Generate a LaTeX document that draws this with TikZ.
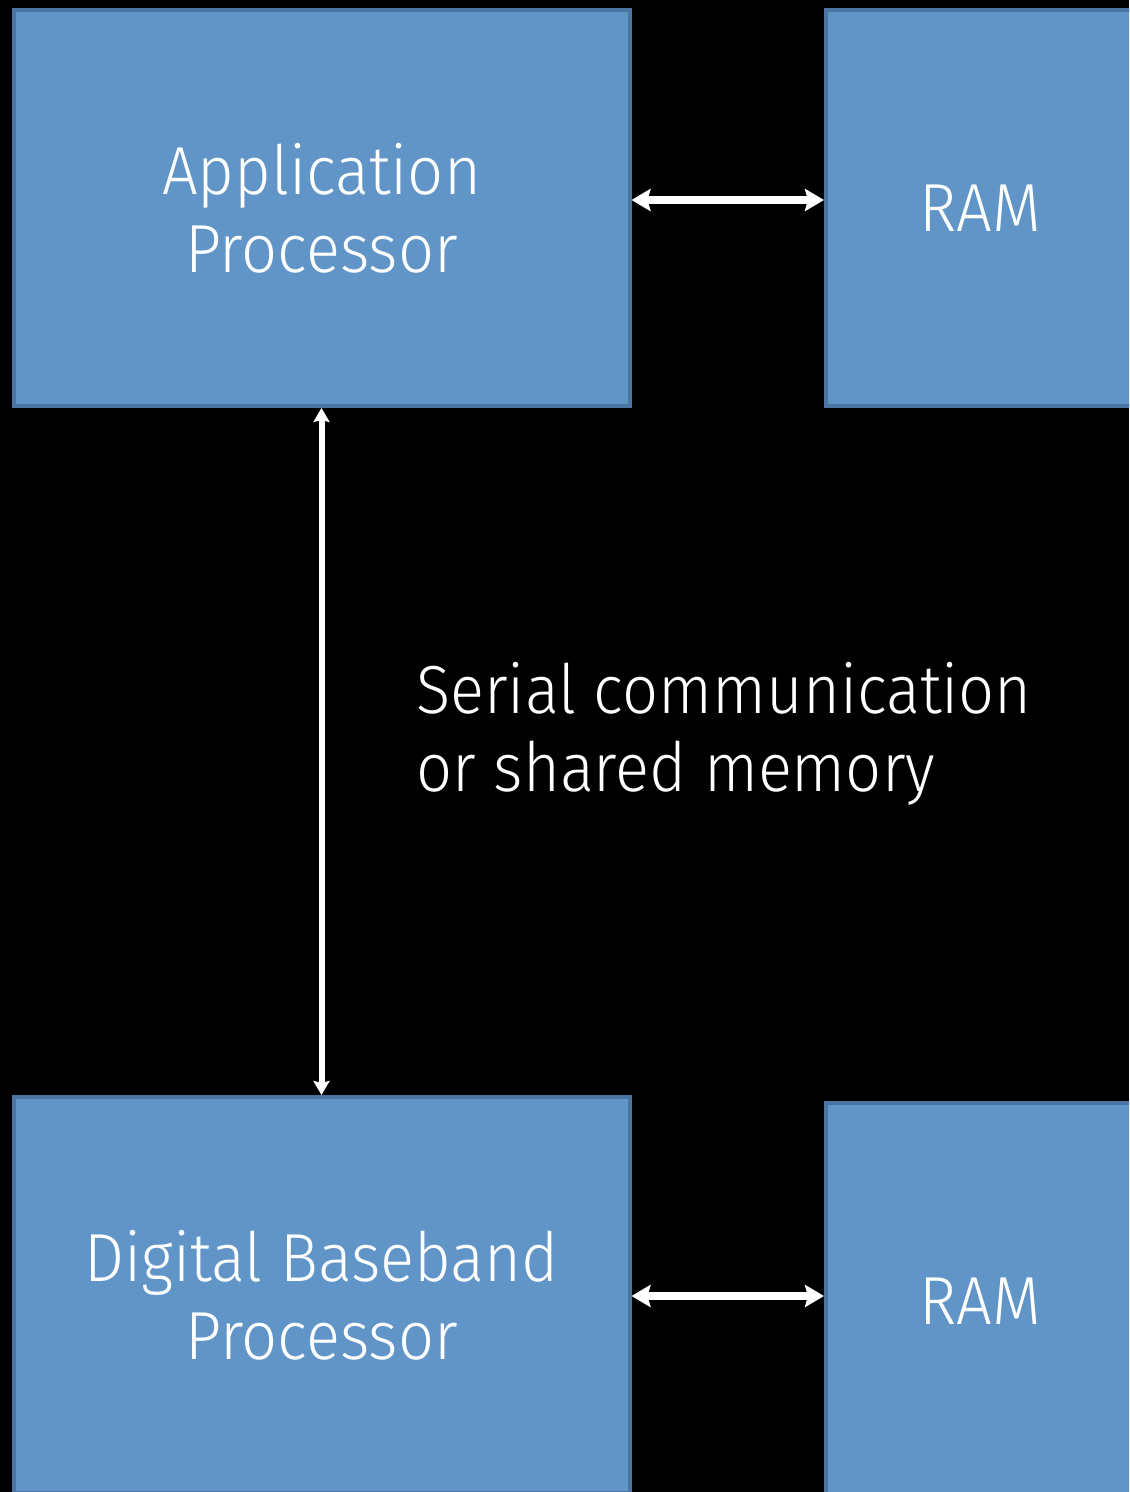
\documentclass[tikz,border=0pt]{standalone}
\usepackage{fontspec}
\setmainfont{Fira Sans}[UprightFont=* Light, FakeStretch=0.93]
\usetikzlibrary{arrows.meta}

\definecolor{boxfill}{RGB}{97,149,200}
\definecolor{boxline}{RGB}{74,116,162}

\tikzset{
  unit/.style={draw=boxline, line width=2pt, fill=boxfill, text=white,
    align=center, font=\fontsize{34}{39}\selectfont},
  link/.style={draw=white, line width=4.3pt,
    {Stealth[length=9.5pt,width=11pt,inset=1.5pt]}-{Stealth[length=9.5pt,width=11pt,inset=1.5pt]}},
  bus/.style={draw=white, line width=3pt,
    {Stealth[length=7pt,width=8pt,inset=1pt]}-{Stealth[length=7pt,width=8pt,inset=1pt]}}
}

\begin{document}
\begin{tikzpicture}[x=0.5pt,y=-0.5pt]
\useasboundingbox (0,0) rectangle (1129,1492);
\fill[black] (0,0) rectangle (1129,1492);
\clip (0,0) rectangle (1129,1492);

\node[unit, minimum width=308pt, minimum height=198pt] (ap) at (321.5,208) {Application\\Processor};
\node[unit, minimum width=154pt, minimum height=198pt] (ram1) at (980,208) {RAM};
\node[unit, minimum width=308pt, minimum height=198pt] (dbp) at (321.5,1295) {Digital Baseband\\Processor};
\node[unit, minimum width=154pt, minimum height=198pt] (ram2) at (980,1301) {RAM};

\path[link] ([yshift=4pt]ap.east) -- ([yshift=4pt]ap.east -| ram1.west);
\path[link] ([yshift=-0.5pt]dbp.east) -- ([yshift=-0.5pt]dbp.east -| ram2.west);
\path[bus] (ap.south) -- (dbp.north);

\node[text=white, align=left, anchor=north west, inner sep=0pt,
  font=\fontsize{34}{39}\selectfont] (note) at (416,662) {Serial communication\\or shared memory};
\end{tikzpicture}
\end{document}
